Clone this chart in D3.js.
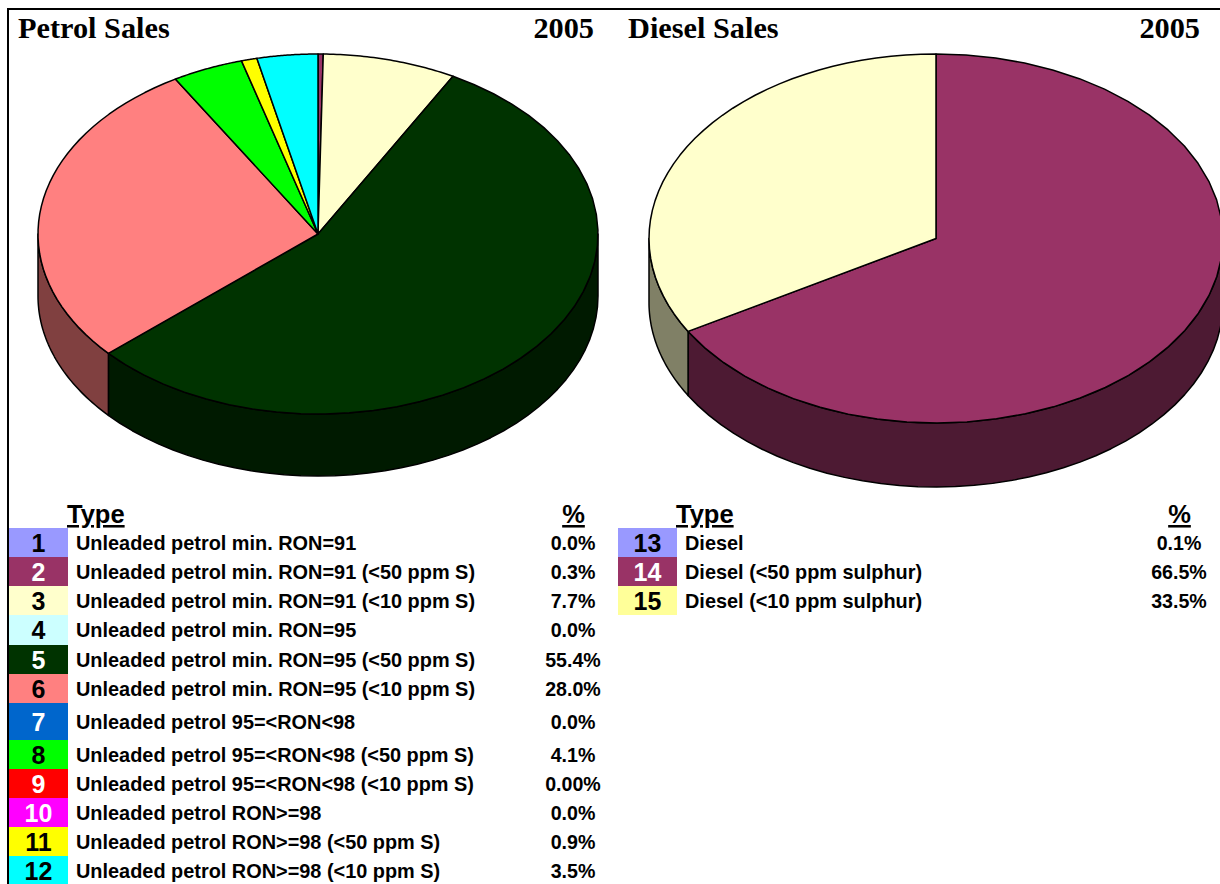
<!DOCTYPE html>
<html>
<head>
<meta charset="utf-8">
<script src="https://cdn.jsdelivr.net/npm/d3@7"></script>
<style>
  html, body { margin: 0; padding: 0; background: #fff; overflow: hidden; }
  svg { display: block; }
  .title { font: bold 30.3px "Liberation Serif", serif; }
  .head { font: bold 25.5px "Liberation Sans", sans-serif; text-decoration: underline; }
  .num { font: bold 25px "Liberation Sans", sans-serif; text-anchor: middle; }
  .label { font: bold 19.9px "Liberation Sans", sans-serif; }
  .pct { font: bold 19.6px "Liberation Sans", sans-serif; text-anchor: middle; }
</style>
</head>
<body>
<div id="chart"></div>
<script>
const petrolIds = [1, 2, 3, 4, 5, 6, 7, 8, 9, 10, 11, 12];
const petrolLabels = [
  "Unleaded petrol min. RON=91",
  "Unleaded petrol min. RON=91 (<50 ppm S)",
  "Unleaded petrol min. RON=91 (<10 ppm S)",
  "Unleaded petrol min. RON=95",
  "Unleaded petrol min. RON=95 (<50 ppm S)",
  "Unleaded petrol min. RON=95 (<10 ppm S)",
  "Unleaded petrol 95=<RON<98",
  "Unleaded petrol 95=<RON<98 (<50 ppm S)",
  "Unleaded petrol 95=<RON<98 (<10 ppm S)",
  "Unleaded petrol RON>=98",
  "Unleaded petrol RON>=98 (<50 ppm S)",
  "Unleaded petrol RON>=98 (<10 ppm S)"
];
const petrolValues = [0.0, 0.3, 7.7, 0.0, 55.4, 28.0, 0.0, 4.1, 0.0, 0.0, 0.9, 3.5];
const petrolPctText = ["0.0%", "0.3%", "7.7%", "0.0%", "55.4%", "28.0%", "0.0%", "4.1%", "0.00%", "0.0%", "0.9%", "3.5%"];
const petrolColors = ["#9999ff", "#993366", "#ffffcc", "#ccffff", "#003300", "#ff8080", "#0066cc", "#00ff00", "#ff0000", "#ff00ff", "#ffff00", "#00ffff"];
const petrolNumColors = ["#000", "#fff", "#000", "#000", "#fff", "#000", "#fff", "#000", "#fff", "#fff", "#000", "#000"];

const dieselIds = [13, 14, 15];
const dieselLabels = ["Diesel", "Diesel (<50 ppm sulphur)", "Diesel (<10 ppm sulphur)"];
const dieselPctText = ["0.1%", "66.5%", "33.5%"];
// the 0.1% slice does not show in the pie, its share sits with type 14
const dieselValues = [0.0, 66.6, 33.4];
const dieselColors = ["#9999ff", "#993366", "#ffffcc"];
const dieselKeyColors = ["#9999ff", "#993366", "#ffff99"];
const dieselNumColors = ["#000", "#fff", "#000"];

const width = 1220, height = 884;
const svg = d3.select("#chart").append("svg").attr("width", width).attr("height", height);

// frame
svg.append("path")
  .attr("d", d3.line()([[8, height], [8, 9], [width, 9]]))
  .attr("fill", "none").attr("stroke", "#000").attr("stroke-width", 2);

function drawPie(values, colors, cx, cy, rx, ry, depth) {
  const x = d3.scaleLinear().domain([-1, 1]).range([cx - rx, cx + rx]);
  const y = d3.scaleLinear().domain([-1, 1]).range([cy - ry, cy + ry]);
  const rows = values.map((v, i) => ({v, color: colors[i]}));
  const arcs = d3.pie().sort(null).value(d => d.v)(rows).filter(a => a.value > 0);

  const rim = (a, dy = 0) => [x(Math.sin(a)), y(-Math.cos(a)) + dy];
  const sweep = (a0, a1) => d3.range(0, 41).map(k => a0 + (a1 - a0) * k / 40);

  // side walls, only the part facing the viewer
  arcs.forEach(a => {
    const a0 = Math.max(a.startAngle, Math.PI / 2), a1 = Math.min(a.endAngle, Math.PI * 1.5);
    if (a1 <= a0) return;
    const pts = sweep(a0, a1);
    const wall = pts.map(t => rim(t)).concat(pts.reverse().map(t => rim(t, depth)));
    svg.append("path")
      .attr("d", d3.line()(wall) + "Z")
      .attr("fill", d3.interpolateRgb(a.data.color, "#000")(0.5))
      .attr("stroke", "#000").attr("stroke-width", 1.5).attr("stroke-linejoin", "round");
  });

  // top face
  arcs.forEach(a => {
    const edge = sweep(a.startAngle, a.endAngle).map(t => rim(t));
    svg.append("path")
      .attr("d", d3.line()([[x(0), y(0)], ...edge]) + "Z")
      .attr("fill", a.data.color)
      .attr("stroke", "#000").attr("stroke-width", 1.5).attr("stroke-linejoin", "round");
  });
}

drawPie(petrolValues, petrolColors, 318, 234, 280, 180, 62);
drawPie(dieselValues, dieselColors, 936, 238.5, 287, 184.5, 64);

function title(text, tx, anchor) {
  svg.append("text").attr("class", "title").attr("x", tx).attr("y", 38).attr("text-anchor", anchor).text(text);
}
title("Petrol Sales", 18, "start");
title("2005", 594, "end");
title("Diesel Sales", 628, "start");
title("2005", 1200, "end");

function drawTable(ids, labels, pcts, keyColors, numColors, rowEdges, keyX, pctX) {
  const keyW = 59;
  svg.append("text").attr("class", "head").attr("x", keyX + 58).attr("y", 523).text("Type");
  svg.append("text").attr("class", "head").attr("x", pctX + 1.5).attr("y", 523).attr("text-anchor", "middle").text("%");
  ids.forEach((id, i) => {
    const y0 = rowEdges[i], y1 = rowEdges[i + 1], mid = (y0 + y1) / 2;
    svg.append("rect").attr("x", keyX).attr("y", y0).attr("width", keyW).attr("height", y1 - y0).attr("fill", keyColors[i]);
    svg.append("text").attr("class", "num").attr("x", keyX + keyW / 2).attr("y", mid + 9).attr("fill", numColors[i]).text(id);
    svg.append("text").attr("class", "label").attr("x", keyX + 67).attr("y", mid + 7).text(labels[i]);
    svg.append("text").attr("class", "pct").attr("x", pctX + 1).attr("y", mid + 7).text(pcts[i]);
  });
}

const petrolEdges = [528, 557, 586, 615, 645, 674, 703, 740, 769, 798, 827, 856, 885];
const dieselEdges = [528, 557, 586, 615];
drawTable(petrolIds, petrolLabels, petrolPctText, petrolColors, petrolNumColors, petrolEdges, 9, 572);
drawTable(dieselIds, dieselLabels, dieselPctText, dieselKeyColors, dieselNumColors, dieselEdges, 618, 1178);
</script>
</body>
</html>
